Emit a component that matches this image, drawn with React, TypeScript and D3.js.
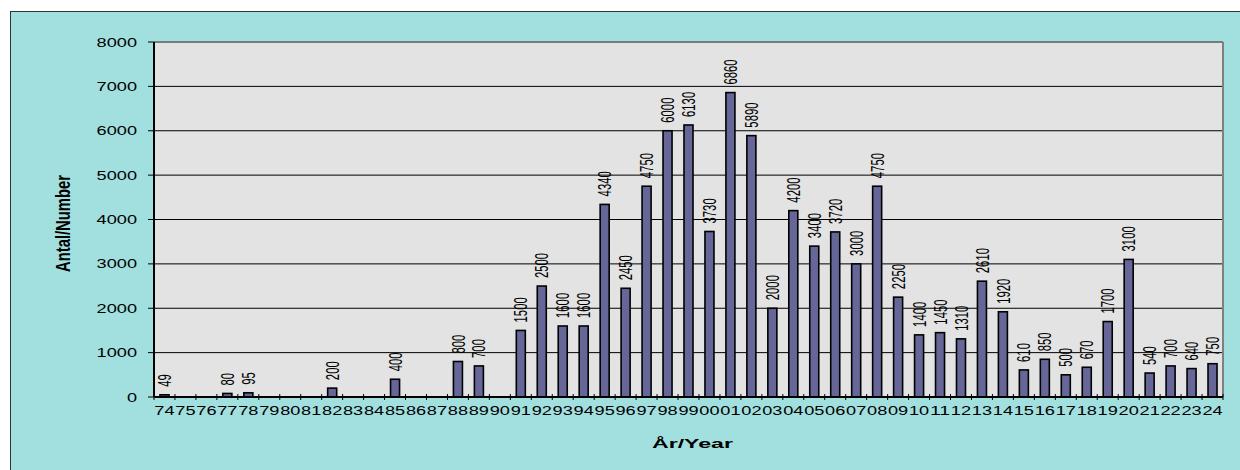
import React from 'react';
import * as d3 from 'd3';

const years = ['74','75','76','77','78','79','80','81','82','83','84','85','86','87','88','89','90','91','92','93','94','95','96','97','98','99','00','01','02','03','04','05','06','07','08','09','10','11','12','13','14','15','16','17','18','19','20','21','22','23','24'];
const counts = [49,0,0,80,95,0,0,0,200,0,0,400,0,0,800,700,0,1500,2500,1600,1600,4340,2450,4750,6000,6130,3730,6860,5890,2000,4200,3400,3720,3000,4750,2250,1400,1450,1310,2610,1920,610,850,500,670,1700,3100,540,700,640,750];
const yTicks = [0,1000,2000,3000,4000,5000,6000,7000,8000];
const xTitle = 'År/Year';
const yTitle = 'Antal/Number';

const W = 1240, H = 470;
const plot = { left: 154, right: 1223, top: 42, bottom: 397 };
const font = '"Liberation Sans", Arial, sans-serif';

export default function App() {
  const x = d3.scaleBand<string>().domain(years).range([plot.left, plot.right]).padding(0);
  const y = d3.scaleLinear().domain([0, 8000]).range([plot.bottom, plot.top]);
  const bw = x.bandwidth() * 0.43;
  const boundaries = d3.range(years.length + 1).map(i => plot.left + i * x.step());

  return (
    <svg width={W} height={H} style={{ position: 'absolute', left: 0, top: 0 }} fontFamily={font}>
      <rect x={0} y={0} width={W} height={H} fill="#ffffff" />
      <rect x={10.5} y={11.5} width={W} height={H} fill="#a2e0e0" stroke="#333333" strokeWidth={1} />
      <rect x={plot.left} y={plot.top} width={plot.right - plot.left} height={plot.bottom - plot.top} fill="#e3e3e3" />
      {yTicks.filter(t => t > 0).map(t => (
        <line key={'g' + t} x1={plot.left} x2={plot.right} y1={y(t)} y2={y(t)} stroke="#000" strokeWidth={1} />
      ))}
      <line x1={plot.left} x2={plot.right} y1={plot.top} y2={plot.top} stroke="#808080" strokeWidth={1.5} />
      <line x1={plot.right} x2={plot.right} y1={plot.top} y2={plot.bottom} stroke="#808080" strokeWidth={2} />
      {years.map((yr, i) => counts[i] > 0 ? (
        <rect key={'b' + yr} x={(x(yr) as number) + x.bandwidth() / 2 - bw / 2} y={y(counts[i])}
          width={bw} height={plot.bottom - y(counts[i])} fill="#666699" stroke="#000" strokeWidth={1.6} />
      ) : null)}
      {years.map((yr, i) => {
        if (counts[i] <= 0) return null;
        const cx = (x(yr) as number) + x.bandwidth() / 2;
        const label = String(counts[i]);
        const ly = y(counts[i]) - 8;
        return (
          <text key={'l' + yr} transform={`translate(${cx + 6.6},${ly}) rotate(-90)`} fontSize={18}
            textLength={label.length * 6.3} lengthAdjust="spacingAndGlyphs" fill="#000">{label}</text>
        );
      })}
      <line x1={plot.left} x2={plot.left} y1={plot.top} y2={plot.bottom} stroke="#000" strokeWidth={2} />
      <line x1={plot.left} x2={plot.right} y1={plot.bottom} y2={plot.bottom} stroke="#000" strokeWidth={2} />
      {yTicks.map(t => (
        <g key={'yt' + t}>
          <line x1={plot.left - 6} x2={plot.left} y1={y(t)} y2={y(t)} stroke="#000" strokeWidth={1} />
          <text x={137} y={y(t) + 4.5} textAnchor="end" fontSize={12.5}
            textLength={String(t).length * 10.1} lengthAdjust="spacingAndGlyphs" fill="#000">{t}</text>
        </g>
      ))}
      {boundaries.map((bx, i) => (
        <line key={'xt' + i} x1={bx} x2={bx} y1={plot.bottom - 3} y2={plot.bottom + 3} stroke="#000" strokeWidth={1} />
      ))}
      {years.map(yr => (
        <text key={'xl' + yr} x={(x(yr) as number) + x.bandwidth() / 2} y={415} textAnchor="middle" fontSize={12.5}
          textLength={20.2} lengthAdjust="spacingAndGlyphs" fill="#000">{yr}</text>
      ))}
      <text x={(plot.left + plot.right) / 2 + 4} y={448} textAnchor="middle" fontSize={13.5} fontWeight="bold"
        textLength={81} lengthAdjust="spacingAndGlyphs" fill="#000">{xTitle}</text>
      <text transform={`translate(69.5,223.5) rotate(-90)`} textAnchor="middle" fontSize={21} fontWeight="bold"
        textLength={97} lengthAdjust="spacingAndGlyphs" fill="#000">{yTitle}</text>
    </svg>
  );
}
